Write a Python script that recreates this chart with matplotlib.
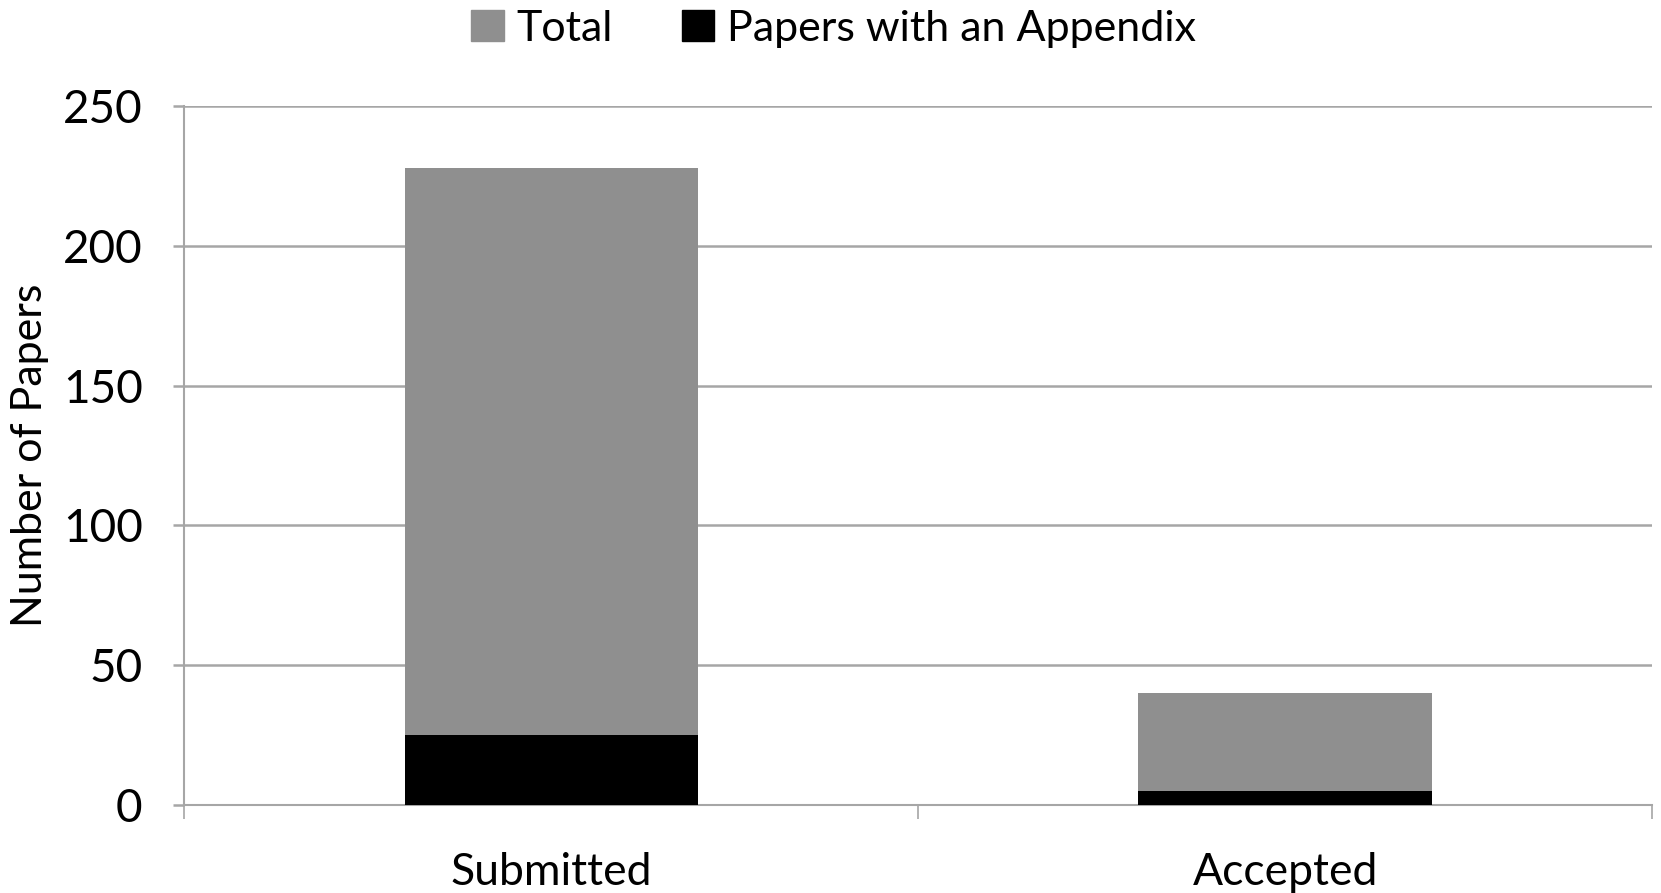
import matplotlib.pyplot as plt
from matplotlib.patches import Patch

categories = ['Submitted', 'Accepted']
total = [228, 40]
with_appendix = [25, 5]
yticks = [0, 50, 100, 150, 200, 250]

plt.rcParams['font.family'] = ['Lato', 'DejaVu Sans']

def main():
    fig = plt.figure(figsize=(16.61, 8.93), dpi=100)
    ax = fig.add_axes([0.111, 0.0985, 0.8836, 0.7827])

    x = list(range(len(categories)))
    ax.bar(x, total, width=0.4, color='#8f8f8f', zorder=2)
    ax.bar(x, with_appendix, width=0.4, color='#000000', zorder=3)

    ax.set_xlim(-0.5, 1.5)
    ax.set_ylim(0, 250)
    ax.set_yticks(yticks)
    ax.yaxis.grid(True, color='#a6a6a6', linewidth=1.8, zorder=1)

    ax.set_xticks(x)
    ax.set_xticklabels(categories)
    ax.set_xticks([-0.5, 0.5, 1.5], minor=True)
    ax.tick_params(axis='x', which='major', length=0, pad=34, labelsize=32)
    ax.tick_params(axis='x', which='minor', length=10, width=1.2, color='#a6a6a6')
    ax.tick_params(axis='y', length=8, width=1.8, color='#a6a6a6', labelsize=33, pad=22)

    for s in ['top', 'right']:
        ax.spines[s].set_visible(False)
    for s in ['left', 'bottom']:
        ax.spines[s].set_color('#a6a6a6')
        ax.spines[s].set_linewidth(1.5)

    ax.set_ylabel('Number of Papers', fontsize=31, labelpad=10)

    handles = [Patch(color='#8f8f8f'), Patch(color='#000000')]
    fig.legend(handles, ['Total', 'Papers with an Appendix'], loc='center',
               bbox_to_anchor=(0.502, 0.968), ncol=2, frameon=False, fontsize=31,
               handlelength=0.75, handleheight=0.75, handletextpad=0.3,
               columnspacing=1.6)

    fig.savefig('out.png', dpi=100)

main()
